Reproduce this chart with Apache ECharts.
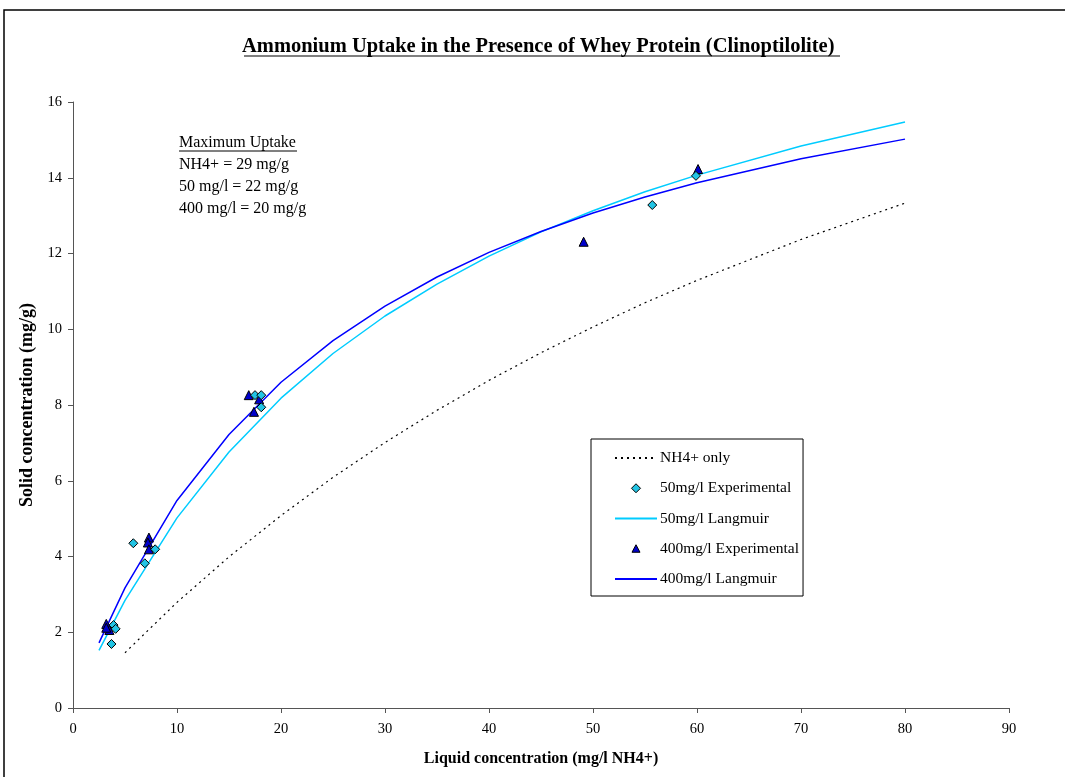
<!DOCTYPE html>
<html>
<head>
<meta charset="utf-8">
<script src="https://cdn.jsdelivr.net/npm/echarts@6/dist/echarts.min.js"></script>
<style>html,body{margin:0;padding:0;background:#fff}#c{width:1065px;height:777px}</style>
</head>
<body>
<div id="c"></div>
<script>
// Langmuir curve sample points (x = liquid concentration)
const langX = [2.5, 5, 10, 15, 20, 25, 30, 35, 40, 45, 50, 55, 60, 70, 80];
const lang50Y = [1.52, 2.84, 5.02, 6.76, 8.18, 9.36, 10.35, 11.19, 11.93, 12.57, 13.13, 13.63, 14.07, 14.84, 15.47];
const lang400Y = [1.72, 3.17, 5.48, 7.22, 8.60, 9.70, 10.61, 11.38, 12.03, 12.58, 13.07, 13.49, 13.87, 14.50, 15.02];
// NH4+ only curve
const nh4X = [5, 10, 15, 20, 25, 30, 35, 40, 45, 50, 55, 60, 70, 80];
const nh4Y = [1.46, 2.79, 3.99, 5.08, 6.09, 7.01, 7.86, 8.65, 9.38, 10.06, 10.70, 11.29, 12.37, 13.33];
// 50 mg/l experimental
const exp50X = [5.8, 7.9, 6.9, 3.9, 4.1, 3.7, 17.5, 18.1, 18.1, 55.7, 59.9];
const exp50Y = [4.35, 4.19, 3.82, 2.19, 2.09, 1.69, 8.26, 8.26, 7.94, 13.28, 14.05];
// 400 mg/l experimental
const exp400X = [3.2, 3.5, 3.2, 7.3, 7.2, 7.3, 16.9, 17.9, 17.4, 49.1, 60.1];
const exp400Y = [2.22, 2.06, 2.12, 4.50, 4.37, 4.19, 8.26, 8.15, 7.82, 12.31, 14.23];
// axis ticks
const xTicks = {min: 0, max: 90, interval: 10};
const yTicks = {min: 0, max: 16, interval: 2};
const seriesNames = ['NH4+ only', '50mg/l Experimental', '50mg/l Langmuir', '400mg/l Experimental', '400mg/l Langmuir'];
const titleText = 'Ammonium Uptake in the Presence of Whey Protein (Clinoptilolite)';
const noteLines = ['Maximum Uptake', 'NH4+ = 29 mg/g', '50 mg/l = 22 mg/g', '400 mg/l = 20 mg/g'];

const zip = (xs, ys) => xs.map((x, i) => [x, ys[i]]);
const FONT = '"Liberation Serif", "Times New Roman", serif';
const chart = echarts.init(document.getElementById('c'), null, {renderer: 'canvas'});

const diamondIcon = 'path://M0,0L0,0M42,14L42,14M21,2.5L25.5,7L21,11.5L16.5,7Z';
const triIcon = 'path://M0,0L0,0M42,14L42,14M21,3L25,10.5L17,10.5Z';
const hiddenSym = {color: 'rgba(0,0,0,0)', borderWidth: 0, borderColor: 'rgba(0,0,0,0)'};

chart.setOption({
  animation: false,
  backgroundColor: '#fff',
  textStyle: {fontFamily: FONT, color: '#000'},
  grid: {left: 73, right: 56, top: 102, bottom: 69, containLabel: false},
  title: {
    text: titleText, left: 242, top: 36, padding: 0,
    textStyle: {fontFamily: FONT, fontSize: 20.5, fontWeight: 'bold', color: '#000'}
  },
  graphic: [
    {type: 'rect', shape: {x: 4, y: 10, width: 1100, height: 900}, style: {fill: 'none', stroke: '#000', lineWidth: 1.5}, silent: true},
    {type: 'line', shape: {x1: 244, y1: 56, x2: 840, y2: 56}, style: {stroke: '#000', lineWidth: 1.2}, silent: true},
    {type: 'text', left: 179, top: 134.5, style: {text: noteLines[0], font: '16px ' + FONT, fill: '#000'}},
    {type: 'line', shape: {x1: 179, y1: 151, x2: 297, y2: 151}, style: {stroke: '#000', lineWidth: 1}, silent: true},
    {type: 'text', left: 179, top: 156.5, style: {text: noteLines[1], font: '16px ' + FONT, fill: '#000'}},
    {type: 'text', left: 179, top: 178.5, style: {text: noteLines[2], font: '16px ' + FONT, fill: '#000'}},
    {type: 'text', left: 179, top: 200.5, style: {text: noteLines[3], font: '16px ' + FONT, fill: '#000'}}
  ],
  legend: {
    orient: 'vertical', left: 591, top: 439,
    padding: [11, 4, 9, 23],
    itemWidth: 42, itemHeight: 14, itemGap: 14.25,
    borderColor: '#000', borderWidth: 1, backgroundColor: '#fff',
    textStyle: {fontFamily: FONT, fontSize: 15.5, color: '#000', padding: [0, 0, 0, -2]},
    itemStyle: {borderWidth: 1},
    data: [
      {name: seriesNames[0], itemStyle: hiddenSym},
      {name: seriesNames[1], icon: diamondIcon},
      {name: seriesNames[2], itemStyle: hiddenSym},
      {name: seriesNames[3], icon: triIcon},
      {name: seriesNames[4], itemStyle: hiddenSym}
    ]
  },
  xAxis: {
    type: 'value', min: xTicks.min, max: xTicks.max, interval: xTicks.interval,
    name: 'Liquid concentration (mg/l NH4+)', nameLocation: 'middle', nameGap: 43,
    nameTextStyle: {fontFamily: FONT, fontSize: 16, fontWeight: 'bold', color: '#000'},
    axisLine: {show: true, lineStyle: {color: '#555', width: 1}},
    axisTick: {show: true, inside: false, length: 5, lineStyle: {color: '#555'}},
    axisLabel: {fontFamily: FONT, fontSize: 14.5, color: '#000', margin: 14},
    splitLine: {show: false}
  },
  yAxis: {
    type: 'value', min: yTicks.min, max: yTicks.max, interval: yTicks.interval,
    name: 'Solid concentration (mg/g)', nameLocation: 'middle', nameGap: 31, nameRotate: 90,
    nameTextStyle: {fontFamily: FONT, fontSize: 18, fontWeight: 'bold', color: '#000'},
    axisLine: {show: true, lineStyle: {color: '#555', width: 1}},
    axisTick: {show: true, inside: false, length: 5, lineStyle: {color: '#555'}},
    axisLabel: {fontFamily: FONT, fontSize: 14.5, color: '#000', margin: 11},
    splitLine: {show: false}
  },
  series: [
    {
      name: seriesNames[0], type: 'line', data: zip(nh4X, nh4Y), symbol: 'none', smooth: false,
      lineStyle: {color: '#000', width: 1.2, type: [2, 4]}, itemStyle: {color: '#000'}, z: 2
    },
    {
      name: seriesNames[2], type: 'line', data: zip(langX, lang50Y), symbol: 'none',
      lineStyle: {color: '#00CCFF', width: 1.5}, itemStyle: {color: '#00CCFF'}, z: 2
    },
    {
      name: seriesNames[4], type: 'line', data: zip(langX, lang400Y), symbol: 'none',
      lineStyle: {color: '#0000FF', width: 1.5}, itemStyle: {color: '#0000FF'}, z: 2
    },
    {
      name: seriesNames[1], type: 'scatter', data: zip(exp50X, exp50Y), symbol: 'diamond', symbolSize: [9, 9],
      itemStyle: {color: '#22C4E4', borderColor: '#000', borderWidth: 1, opacity: 1}, z: 4
    },
    {
      name: seriesNames[3], type: 'scatter', data: zip(exp400X, exp400Y), symbol: 'triangle', symbolSize: [9, 9],
      itemStyle: {color: '#0000CC', borderColor: '#000', borderWidth: 1, opacity: 1}, z: 3
    }
  ]
});
</script>
</body>
</html>
